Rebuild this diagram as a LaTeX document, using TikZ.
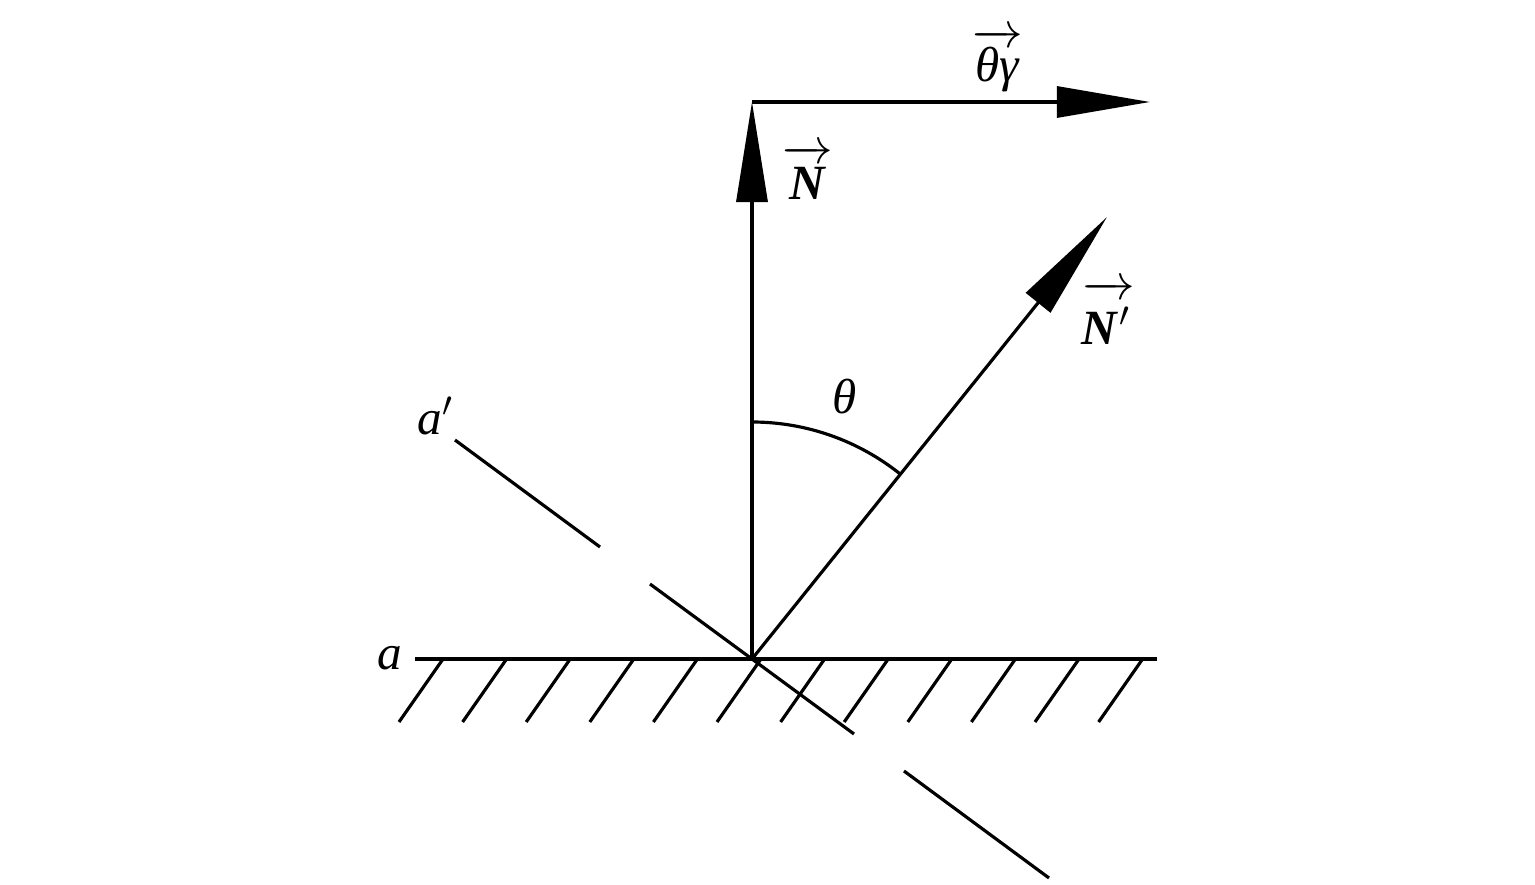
\documentclass[tikz,border=0pt]{standalone}
\usepackage{fontspec}
\setmainfont{Liberation Serif}
\usetikzlibrary{arrows.meta}
\newcommand\myvec[2][0.82em]{\(\overrightarrow{\rule{0pt}{#1}\mbox{#2}}\)}
\begin{document}
\begin{tikzpicture}[x=0.01cm,y=0.01cm,
  ln/.style={line width=0.9pt,black},
  bigtip/.style={-{Triangle[length=#1,width=0.31cm]}},
  lbl/.style={inner sep=0pt,anchor=base,font=\fontsize{14}{16}\selectfont}]
\useasboundingbox (0,0) rectangle (1535,884);
% points
\coordinate (O) at (752,225);
\coordinate (Ntop) at (752,782);
\coordinate (Tend) at (1150,782);
\coordinate (Np) at (1107,667);
\coordinate (gl) at (415,225);
\coordinate (gr) at (1157,225);
% ground
\draw[ln] (gl) -- (gr);
\foreach \k in {0,...,11}{
  \draw[ln] ({443+63.6*\k},225) -- ({399+63.6*\k},162);
}
% vectors
\draw[ln,bigtip=1cm] (O) -- (Ntop);
\draw[ln,bigtip=0.93cm] (Ntop) -- (Tend);
\draw[ln,bigtip=1.1cm] (O) -- (Np);
% angle arc
\draw[ln] (752,462) arc[start angle=90,end angle=51.2,radius=2.37cm];
% broken line a'
\coordinate (d1) at (455,444); \coordinate (d2) at (600,337);
\coordinate (d3) at (650,300); \coordinate (d4) at (854,150);
\coordinate (d5) at (904,113); \coordinate (d6) at (1049,6);
\draw[ln] (d1) -- (d2);
\draw[ln] (d3) -- (d4);
\draw[ln] (d5) -- (d6);
% labels
\node[lbl] (lty) at (998,802) {\myvec[0.78em]{\textit{θγ}}};
\node[lbl] (lN) at (808,684) {\myvec{\textbf{\textit{N}}}};
\node[lbl] (lNp) at (1108,539) {\myvec[1.0em]{\textbf{\textit{N}}\kern0.5pt\(^{\prime}\)\kern1pt}};
\node[lbl] (lth) at (845,470) {\textit{θ}};
\node[lbl] (lap) at (436,449) {\textit{a}\(^{\prime}\)};
\node[lbl] (la) at (390,215) {\textit{a}};
\end{tikzpicture}
\end{document}
